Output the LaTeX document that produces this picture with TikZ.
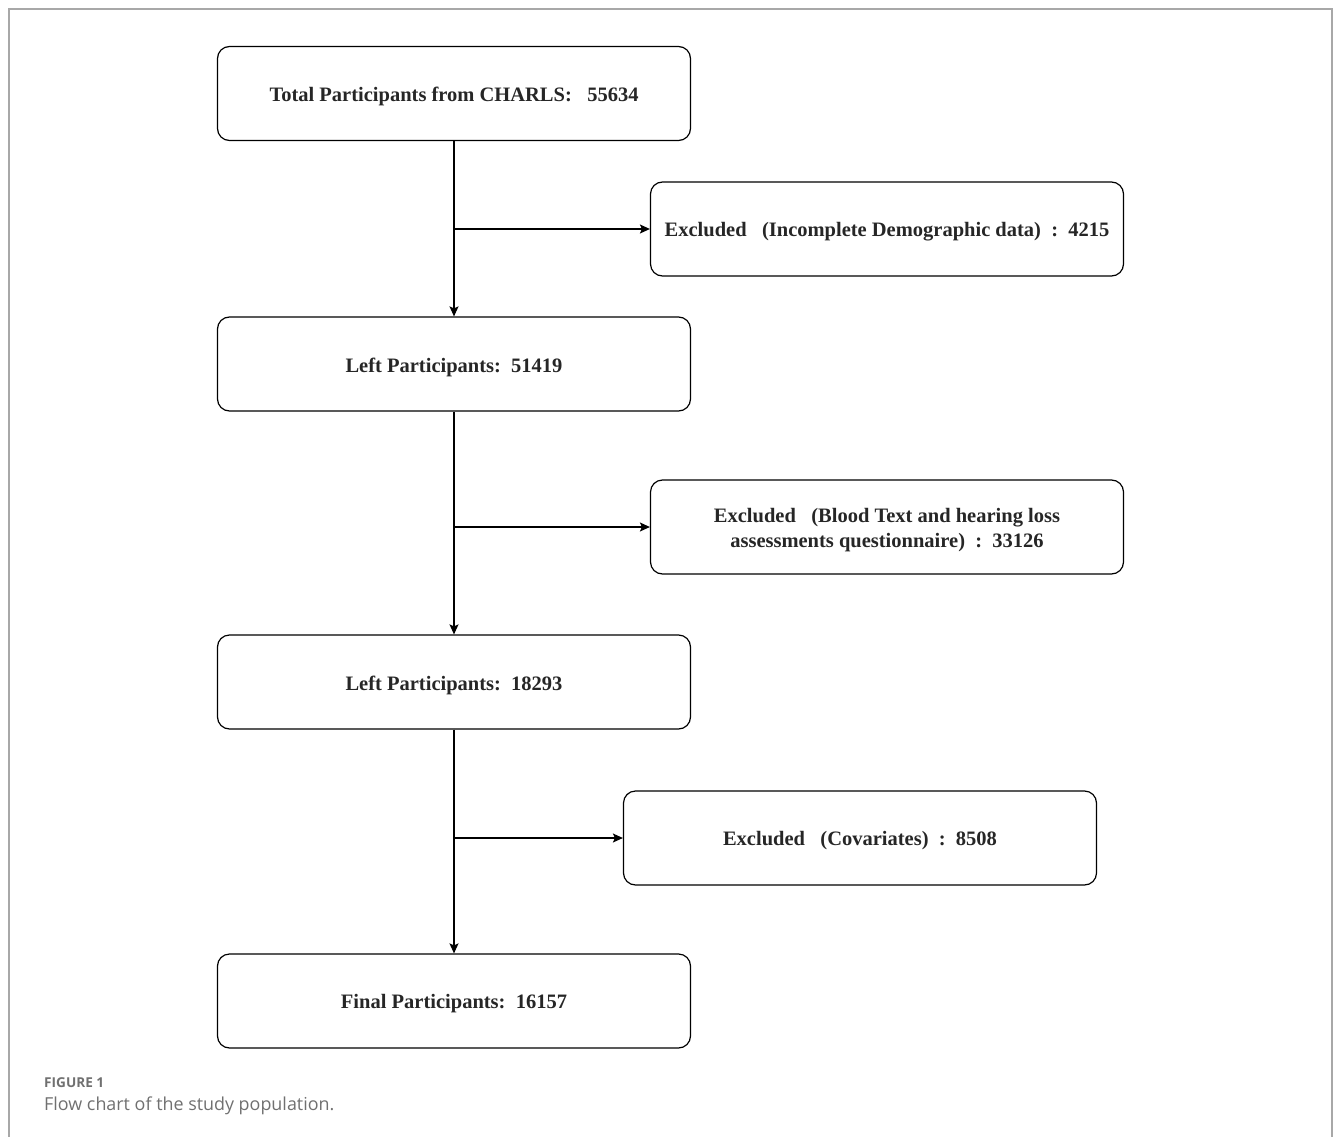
\documentclass[tikz,border=0pt]{standalone}
\usepackage{fontspec}
\setmainfont{Liberation Serif}
\newfontfamily\capfont{Open Sans}
\usetikzlibrary{arrows.meta}
\definecolor{capgray}{HTML}{707070}
\definecolor{framegray}{HTML}{A8A8A8}
\newcommand{\lowtxt}[1]{\raisebox{-3pt}[\height][\depth]{#1}}
\tikzset{
  box/.style={draw=black, line width=1.2pt, rounded corners=12pt, minimum width=473pt, minimum height=94pt, inner sep=0pt, align=center, font=\fontsize{20.5}{25}\selectfont\bfseries, text=black!85},
  conn/.style={draw=black, line width=1.2pt, -{Stealth[length=10pt,width=9pt,inset=2pt]}}
}
\begin{document}
\begin{tikzpicture}[x=1pt,y=-1pt]
\useasboundingbox (0,0) rectangle (1333,1137);
\draw[framegray, line width=1.5pt] (9,1137) -- (9,9) -- (1332,9) -- (1332,1137);
\node[box] (b1) at (454,93.5) {\lowtxt{Total Participants from CHARLS:\ \ \ 55634}};
\node[box] (e1) at (887,229) {\lowtxt{Excluded\ \ \ (Incomplete Demographic data)\ \ :\ \ 4215}};
\node[box] (b2) at (454,364) {\lowtxt{Left Participants:\ \ 51419}};
\node[box] (e2) at (887,527) {\lowtxt{\begin{tabular}{@{}c@{}}Excluded\ \ \ (Blood Text and hearing loss\\assessments questionnaire)\ \ :\ \ 33126\end{tabular}}};
\node[box] (b3) at (454,682) {\lowtxt{Left Participants:\ \ 18293}};
\node[box] (e3) at (860,838) {\lowtxt{Excluded\ \ \ (Covariates)\ \ :\ \ 8508}};
\node[box] (b4) at (454,1001) {\lowtxt{Final Participants:\ \ 16157}};
\coordinate (j1) at (b1.south |- e1.west);
\coordinate (j2) at (b2.south |- e2.west);
\coordinate (j3) at (b3.south |- e3.west);
\draw[conn] (b1.south) -- (b2.north);
\draw[conn] (b2.south) -- (b3.north);
\draw[conn] (b3.south) -- (b4.north);
\draw[conn] (j1) -- (e1.west);
\draw[conn] (j2) -- (e2.west);
\draw[conn] (j3) -- (e3.west);
\node[anchor=base west, inner sep=0pt, text=capgray, font=\capfont\fontsize{13.6}{16}\selectfont\bfseries] (cap1) at (44,1087) {FIGURE 1};
\node[anchor=base west, inner sep=0pt, text=capgray, font=\capfont\fontsize{17.9}{21}\selectfont] (cap2) at (44,1110) {Flow chart of the study population.};
\end{tikzpicture}
\end{document}
